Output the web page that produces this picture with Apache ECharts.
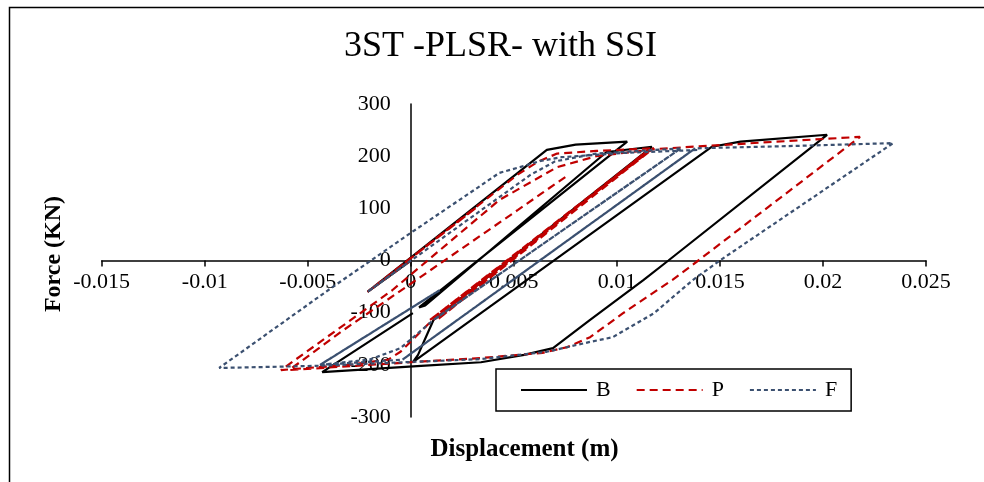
<!DOCTYPE html>
<html>
<head>
<meta charset="utf-8">
<script src="https://cdn.jsdelivr.net/npm/echarts@6/dist/echarts.min.js"></script>
<style>
html,body{margin:0;padding:0;background:#fff;}
#chart{width:984px;height:482px;}
</style>
</head>
<body>
<div id="chart"></div>
<script>
// ---- data ----
const titleText = '3ST -PLSR- with SSI';
const xName = 'Displacement (m)';
const yName = 'Force (KN)';
const seriesNames = ['B', 'P', 'F'];
const xTickLabels = ['-0.015', '-0.01', '-0.005', '0', '0.005', '0.01', '0.015', '0.02', '0.025'];
const yTickLabels = ['-300', '-200', '-100', '0', '100', '200', '300'];

// B : displacement (m) / force (kN), in loading order
const B_x = [0, -0.0021, 0.0066, 0.0080, 0.0105, 0.0004, 0.0007, 0.0095, 0.0117, 0.0011, 0.00035, 0.0001, 0.0146, 0.0160, 0.0202, 0.0125, 0.0113, 0.0087, 0.0069, 0.0055, 0.0034, 0.0005, -0.0043, 0.0001];
const B_y = [0, -60, 212, 222, 228, -90, -86, 208, 218, -114, -181, -195, 218, 228, 241, 0, -37, -114, -168, -181, -195, -202, -214, -101];

// P
const P_x = [0, -0.0021, 0.0032, -0.0021, 0.0052, 0.0062, 0.0071, 0.0090, 0.0117, 0.0011, 0.0115, 0.0013, 0.0118, 0.0009, 0.0116, 0.0010, -0.0005, -0.0011, -0.0030, -0.0063, -0.0009, 0.0043, 0.0071, 0.0090, 0.0120, 0.0170, 0.0218, 0.01395, 0.0127, 0.0103, 0.0087, 0.0076, 0.0064, 0.0034, 0.0, -0.0059, -0.0034, 0.0052, 0.0064, 0.0075];
const P_y = [0, -60, 102, -60, 165, 190, 205, 210, 215, -114, 211, -113, 216, -115, 213, -116, -175, -190, -200, -210, -57, 116, 179, 200, 214, 226, 237, 0, -37, -101, -147, -166, -177, -187, -195, -210, -137, 97, 130, 160];

// F
const F_x = [0, -0.0021, 0, -0.0021, 0.0058, 0.0070, 0.0090, 0.0131, 0.0011, 0.0131, 0.0011, -0.0005, -0.0020, -0.0044, 0.0014, -0.0044, 0.0014, -0.0044, -0.0004, 0.0138, -0.0004, 0.0138, 0.0190, 0.0234, 0.0150, 0.0137, 0.0118, 0.0098, 0.0087, 0.0066, 0.0034, -0.0046, -0.0093, -0.0038, 0.0, 0.0043, 0.0053, 0.0063, 0.0073, 0.0102, 0.0140];
const F_y = [0, -60, 0, -60, 164, 190, 205, 215, -114, 215, -114, -168, -190, -200, -57, -200, -57, -200, -190, 215, -190, 215, 220, 225, 0, -37, -101, -147, -156, -175, -189, -202, -206, -51, 53, 168, 179, 191, 198, 206, 212];

// ---- chart ----
const X_MIN = -0.015, X_MAX = 0.025, X_INT = 0.005;
const Y_MIN = -300, Y_MAX = 300, Y_INT = 100;
const serif = '"Liberation Serif", "Times New Roman", serif';
const GRID = {left: 101.7, top: 104, width: 824.3, height: 313};
// axes cross at (0,0): shift each axis from the grid edge to the zero line
const xZeroPx = GRID.left + (0 - X_MIN) / (X_MAX - X_MIN) * GRID.width;
const yZeroPx = GRID.top + (Y_MAX - 0) / (Y_MAX - Y_MIN) * GRID.height;

function pairs(xs, ys) { return xs.map((x, i) => [x, ys[i]]); }

const chart = echarts.init(document.getElementById('chart'), null, {renderer: 'canvas'});
chart.setOption({
  animation: false,
  backgroundColor: '#ffffff',
  grid: Object.assign({containLabel: false}, GRID),
  xAxis: {
    type: 'value', min: X_MIN, max: X_MAX, interval: X_INT, position: 'bottom',
    offset: -(GRID.top + GRID.height - yZeroPx),
    axisLine: {show: true, onZero: false, lineStyle: {color: '#000', width: 1.5}},
    axisTick: {show: true, inside: false, length: 6, lineStyle: {color: '#000', width: 1.5}},
    splitLine: {show: false},
    axisLabel: {
      margin: 11, color: '#000', fontFamily: serif, fontSize: 22,
      formatter: v => xTickLabels[Math.round((v - X_MIN) / X_INT)]
    }
  },
  yAxis: {
    type: 'value', min: Y_MIN, max: Y_MAX, interval: Y_INT, position: 'left',
    offset: -(xZeroPx - GRID.left),
    axisLine: {show: true, onZero: false, lineStyle: {color: '#000', width: 1.5}},
    axisTick: {show: false},
    splitLine: {show: false},
    axisLabel: {
      margin: 20, color: '#000', fontFamily: serif, fontSize: 22,
      formatter: v => yTickLabels[Math.round((v - Y_MIN) / Y_INT)]
    }
  },
  legend: {
    left: 496, top: 369,
    padding: [10, 14, 10, 24],
    itemGap: 25, itemWidth: 66, itemHeight: 14,
    borderColor: '#000', borderWidth: 1.5,
    itemStyle: {color: 'rgba(0,0,0,0)', borderWidth: 0, opacity: 0},
    textStyle: {fontFamily: serif, fontSize: 22, color: '#000', padding: [0, 0, 0, 4]},
    data: seriesNames
  },
  series: [
    {name: seriesNames[0], type: 'line', data: pairs(B_x, B_y), showSymbol: false, symbol: 'none',
     lineStyle: {color: '#000000', width: 2.2}, itemStyle: {color: '#000000'}},
    {name: seriesNames[1], type: 'line', data: pairs(P_x, P_y), showSymbol: false, symbol: 'none',
     lineStyle: {color: '#C00000', width: 2.2, type: [8, 5]}, itemStyle: {color: '#C00000'}},
    {name: seriesNames[2], type: 'line', data: pairs(F_x, F_y), showSymbol: false, symbol: 'none',
     lineStyle: {color: '#3B5070', width: 2.2, type: [4, 3]}, itemStyle: {color: '#3B5070'}}
  ],
  graphic: [
    {type: 'rect', left: 7, top: 5, shape: {x: 0, y: 0, width: 1000, height: 500},
     style: {fill: 'none', stroke: '#000', lineWidth: 1.5}, silent: true},
    {type: 'text', x: 500.5, y: 47, style: {text: titleText, font: '36px ' + serif, fill: '#000', textAlign: 'center', textVerticalAlign: 'middle'}},
    {type: 'text', x: 524.5, y: 450, style: {text: xName, font: 'bold 25px ' + serif, fill: '#000', textAlign: 'center', textVerticalAlign: 'middle'}},
    {type: 'text', x: 54, y: 254, rotation: Math.PI / 2, style: {text: yName, font: 'bold 24px ' + serif, fill: '#000', textAlign: 'center', textVerticalAlign: 'middle'}}
  ]
});
</script>
</body>
</html>
